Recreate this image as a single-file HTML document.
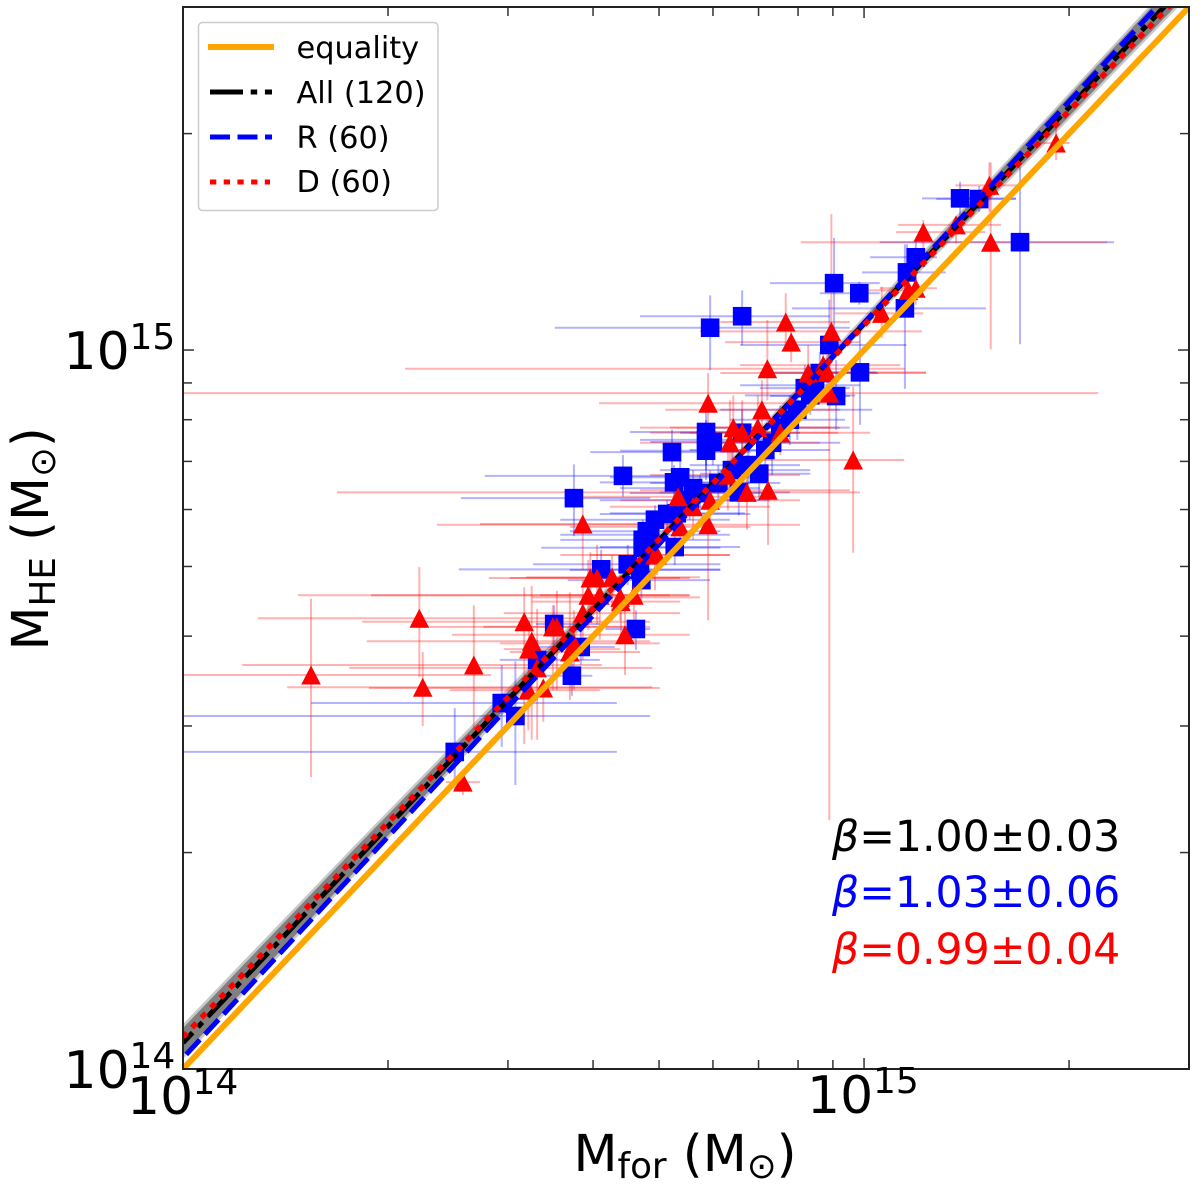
<!DOCTYPE html>
<html>
<head>
<meta charset="utf-8">
<title>Mass comparison</title>
<style>
html,body{margin:0;padding:0;background:#fff;width:1200px;height:1192px;overflow:hidden}
svg{display:block}
text{font-family:"DejaVu Sans","Liberation Sans",sans-serif;fill:#000}
</style>
</head>
<body>
<svg id="chart" xmlns="http://www.w3.org/2000/svg" width="1200" height="1192" viewBox="0 0 1200 1192">
  <defs><clipPath id="plot-clip"><rect x="183" y="7" width="1006" height="1062"/></clipPath></defs>
  <rect x="183" y="7" width="1006" height="1062" fill="#fff"/>
  <g id="bands" clip-path="url(#plot-clip)"></g>
  <g id="errs" clip-path="url(#plot-clip)"></g>
  <g id="marks" clip-path="url(#plot-clip)"></g>
  <g id="lines" clip-path="url(#plot-clip)"></g>
  <g id="ticks"></g>
  <rect x="183" y="7" width="1006" height="1062" fill="none" stroke="#222" stroke-width="2"/>

  <g><text x="63.5" y="1088" font-size="52">10</text><text x="129.5" y="1068" font-size="36">14</text></g>
  <g><text x="63.5" y="369" font-size="52">10</text><text x="129.5" y="349" font-size="36">15</text></g>
  <g><text x="127" y="1114" font-size="52">10</text><text x="192.5" y="1094" font-size="36">14</text></g>
  <g><text x="807" y="1113" font-size="52">10</text><text x="873" y="1093" font-size="36">15</text></g>

  <text x="573.5" y="1171" font-size="51">M<tspan font-size="35.7" dy="7">for</tspan><tspan dy="-7"> (M</tspan><tspan font-size="35.7" dy="7">⊙</tspan><tspan dy="-7">)</tspan></text>
  <text transform="translate(48,650.5) rotate(-90)" x="0" y="0" font-size="51">M<tspan font-size="35.7" dy="7">HE</tspan><tspan dy="-7"> (M</tspan><tspan font-size="35.7" dy="7">⊙</tspan><tspan dy="-7">)</tspan></text>

  <text x="832" y="851" font-size="42.6"><tspan font-style="italic">β</tspan>=1.00±0.03</text>
  <text x="832" y="907" font-size="42.6" style="fill:#0000ff"><tspan font-style="italic">β</tspan>=1.03±0.06</text>
  <text x="832" y="964" font-size="42.6" style="fill:#ff0000"><tspan font-style="italic">β</tspan>=0.99±0.04</text>

  <g>
    <rect x="198.5" y="22.5" width="239.5" height="188" rx="4" fill="#fff" fill-opacity="0.8" stroke="#ccc" stroke-width="1.5"/>
    <line x1="208" y1="47" x2="274" y2="47" stroke="#ffa500" stroke-width="6"/>
    <line x1="210" y1="92" x2="272" y2="92" stroke="#000" stroke-width="5" stroke-dasharray="33 7.7 6.5 7.7"/>
    <line x1="210" y1="137" x2="272" y2="137" stroke="#0000ff" stroke-width="5" stroke-dasharray="20 7.5"/>
    <line x1="210" y1="182" x2="270" y2="182" stroke="#ff0000" stroke-width="5" stroke-dasharray="6.3 7.4"/>
    <text x="296.5" y="58" font-size="30.4">equality</text>
    <text x="296.5" y="103" font-size="30.4">All (120)</text>
    <text x="296.5" y="148" font-size="30.4">R (60)</text>
    <text x="296.5" y="192" font-size="30.4">D (60)</text>
  </g>
</svg>
<script>
// All values: log10(M / 1e14 Msun)
const rFor   = [1.229,1.141,1.169,1.076,1.063,1.060,.956,.993,.949,.994,.959,.902,.913,.935,.891,.865,.821,.830,.846,.816,.786,.768,.768,.768,.778,.774,.821,.718,.730,.721,.749,.759,.646,.574,.711,.725,.681,.675,.675,.722,.653,.614,.673,.665,.545,.584,.520,.571,.468,.488,.399,.686,.928,.877,.855,.744,.671,.921,.806,.693];
const rForLo = [1.023,1.085,1.106,1.009,.997,.894,.862,.935,.818,.921,.862,.789,.847,.862,.803,.759,.730,.744,.759,.700,.686,.656,.671,.642,.686,.546,.671,.598,.627,.612,.642,.656,.443,.408,.612,.627,.568,.554,.526,.612,.514,.405,.565,.620,.518,.510,.465,.510,.188,-.122,-.151,.554,.818,.774,.744,.612,.568,.825,.700,.554];
const rForHi = [1.367,1.223,1.223,1.107,1.120,1.179,1.023,1.023,1.062,1.018,.979,1.012,.979,1.021,.972,.965,.906,.906,.921,.891,.877,.869,.884,.862,.891,.979,.950,.833,.847,.833,.847,.862,.803,.686,.833,.825,.789,.789,.789,.818,.789,.789,.774,.686,.612,.634,.612,.601,.637,.686,.637,.803,.994,.979,.950,.862,.789,.987,.921,.803];
const rHE    = [1.150,1.211,1.210,1.129,1.108,1.058,1.093,1.079,1.007,.969,.936,.917,.947,.968,.903,.871,.885,.840,.828,.802,.815,.886,.875,.860,.872,1.031,1.047,.858,.823,.816,.808,.801,.825,.794,.772,.773,.748,.736,.725,.726,.702,.695,.680,.612,.619,.587,.569,.547,.509,.491,.441,.743,.951,.892,.861,.791,.694,.937,.833,.764];
const rHELo  = [1.008,1.188,1.192,1.108,1.070,.946,1.000,1.063,.937,.896,.889,.875,.910,.933,.868,.826,.840,.805,.791,.770,.784,.833,.840,.819,.840,.972,1.007,.826,.798,.784,.777,.770,.796,.741,.750,.743,.715,.708,.694,.701,.673,.666,.652,.583,.590,.562,.541,.519,.448,.395,.388,.715,.923,.861,.833,.764,.666,.910,.805,.736];
const rHEHi  = [1.255,1.234,1.228,1.153,1.147,1.147,1.156,1.095,1.070,1.024,.986,.951,.979,.997,.937,.903,.917,.868,.854,.826,.840,.923,.903,.896,.896,1.076,1.083,.889,.847,.840,.833,.826,.854,.841,.791,.805,.777,.764,.750,.750,.729,.722,.708,.638,.645,.611,.597,.576,.562,.567,.502,.777,.972,.923,.889,.819,.722,.961,.861,.784];

const dFor   = [1.282,1.184,1.135,1.087,1.186,1.076,1.065,1.026,.885,.893,.952,.858,.771,.918,.940,.946,.949,.984,.808,.821,.803,.850,.844,.877,.800,.828,.859,.774,.771,.587,.727,.749,.730,.693,.630,.598,.608,.595,.612,.642,.662,.643,.696,.587,.649,.501,.512,.508,.543,.549,.568,.574,.520,.529,.507,.347,.352,.427,.188,.411];
const dForLo = [1.258,1.134,1.050,1.047,.907,1.023,.994,.957,.789,.796,.759,.326,.611,.789,.818,.847,-.048,.847,.671,.686,.671,.708,.715,.744,.686,.226,.671,.642,.373,.436,.583,.627,.568,.554,.504,.449,.480,.169,.276,.512,.524,.512,.598,.471,.395,.263,.270,.471,.441,.342,.480,.465,.244,.273,.392,.110,.153,.087,-.078,.386];
const dForHi = [1.302,1.225,1.201,1.178,1.357,1.107,1.090,1.087,.979,.994,1.085,1.060,.950,1.091,1.053,1.091,1.344,1.059,.950,.962,.935,.965,.965,1.009,.906,.994,.979,.906,.906,.730,.847,.862,.833,.803,.759,.730,.744,.715,.744,.759,.744,.730,.803,.730,.744,.686,.686,.642,.671,.686,.671,.700,.689,.700,.612,.612,.689,.615,.452,.436];
const dHE    = [1.288,1.229,1.174,1.164,1.150,1.086,1.083,1.051,1.039,1.011,1.026,.974,.926,.968,.979,.969,.940,.847,.892,.885,.871,.917,.892,.885,.826,.802,.805,.791,.757,.758,.796,.782,.754,.715,.684,.683,.683,.659,.659,.656,.659,.650,.715,.634,.604,.622,.595,.584,.615,.615,.580,.592,.558,.530,.527,.627,.531,.562,.548,.399];
const dHELo  = [1.264,1.192,1.149,1.139,1.001,1.063,1.053,1.017,1.000,.983,1.000,.930,.898,.930,.944,.937,.346,.718,.833,.805,.819,.875,.847,.854,.777,.750,.729,.764,.624,.694,.750,.736,.715,.666,.624,.624,.618,.611,.597,.624,.597,.597,.687,.569,.548,.452,.458,.527,.527,.527,.513,.527,.458,.483,.471,.545,.477,.471,.406,.381];
const dHEHi  = [1.309,1.261,1.185,1.181,1.261,1.111,1.114,1.088,1.079,1.032,1.189,1.042,.968,1.007,1.014,1.000,1.014,.949,.937,.930,.930,.958,.937,.917,.868,.854,.840,.833,.805,.784,.833,.805,.791,.743,.715,.719,.729,.708,.701,.687,.673,.680,.736,.680,.638,.670,.672,.624,.645,.665,.663,.638,.640,.541,.555,.698,.580,.645,.654,.416];

// Fit lines: logHE = intercept + slope * logFor
const fitIntercepts = [0.0365, 0.0153, 0.0445];
const fitSlopes     = [1.00, 1.0225, 0.99];
// Confidence bands: half-widths in dex at sampled logFor values
const bandCenter  = 0.0382;
const bandSamples = [0, 0.25, 0.5, 0.75, 1.0, 1.25, 1.477];
const bandLight   = [0.0243, 0.0210, 0.0140, 0.0050, 0.0090, 0.0170, 0.0230];
const bandDark    = [0.0188, 0.0160, 0.0090, 0.0020, 0.0050, 0.0130, 0.0180];

// Axis limits and ticks in units of 1e14 Msun
const axisMax = 30;
const xTickMasses = [1,2,3,4,5,6,7,8,9,10,20];
const yTickMasses = [1,2,3,4,5,6,7,8,9,10,20];

const NS = 'http://www.w3.org/2000/svg';
const xScale = u => 183 + u * 1006 / Math.log10(axisMax);
const yScale = u => 1069 - u * 1062 / Math.log10(axisMax);
function make(tag, parent) {
  const el = document.createElementNS(NS, tag);
  parent.appendChild(el);
  return el;
}
function seg(parent, x1, y1, x2, y2, color, w, op) {
  const l = make('line', parent);
  l.setAttribute('x1', x1); l.setAttribute('y1', y1);
  l.setAttribute('x2', x2); l.setAttribute('y2', y2);
  l.setAttribute('stroke', color); l.setAttribute('stroke-width', w);
  if (op) l.setAttribute('stroke-opacity', op);
  return l;
}

// Bands
const bandG = document.getElementById('bands');
const bandColors = ['#c8c8c8', '#808080'];
[bandLight, bandDark].forEach((widths, k) => {
  const up = [], dn = [];
  bandSamples.forEach((u, i) => {
    const c = bandCenter + u;
    up.push(xScale(u) + ',' + yScale(c + widths[i]));
    dn.unshift(xScale(u) + ',' + yScale(c - widths[i]));
  });
  const p = make('polygon', bandG);
  
  
  p.setAttribute('points', up.concat(dn).join(' '));
  p.setAttribute('fill', bandColors[k]);
});

// Error bars
const errG = document.getElementById('errs');
function drawErrors(fx, lo, hi, fy, ylo, yhi, color, name) {
  fx.forEach((v, i) => {
    const h = seg(errG, xScale(lo[i]), yScale(fy[i]), xScale(hi[i]), yScale(fy[i]), color, 2, 0.3);
    
    
    const w = seg(errG, xScale(v), yScale(ylo[i]), xScale(v), yScale(yhi[i]), color, 2, 0.3);
    
    
  });
}
drawErrors(rFor, rForLo, rForHi, rHE, rHELo, rHEHi, '#0000ff', 'relaxed');
drawErrors(dFor, dForLo, dForHi, dHE, dHELo, dHEHi, '#ff0000', 'disturbed');

// Markers
const markG = document.getElementById('marks');
rFor.forEach((v, i) => {
  const s = make('rect', markG);
  
  
  s.setAttribute('x', xScale(v) - 9.3);
  s.setAttribute('y', yScale(rHE[i]) - 9.3);
  s.setAttribute('width', 18.6);
  s.setAttribute('height', 18.6);
  s.setAttribute('fill', '#0000ff');
});
dFor.forEach((v, i) => {
  const cx = xScale(v), cy = yScale(dHE[i]);
  const t = make('polygon', markG);
  
  
  t.setAttribute('points', (cx - 9.8) + ',' + (cy + 9.5) + ' ' + (cx + 9.8) + ',' + (cy + 9.5) + ' ' + cx + ',' + (cy - 9.5));
  t.setAttribute('fill', '#ff0000');
});

// Lines
const lineG = document.getElementById('lines');
const uMax = Math.log10(axisMax);
const eq = seg(lineG, xScale(0), yScale(0), xScale(uMax), yScale(uMax), '#ffa500', 6);


const lineColors = ['#000000', '#0000ff', '#ff0000'];
const lineWidths = [5, 5, 5.5];
const lineDashes = ['33 7.7 6.5 7.7', '20 7.5', '6.3 7.4'];
const lineOffsets = [19, 22.7, 0.7];
const lineNames = ['fit-line-all', 'fit-line-r', 'fit-line-d'];
fitIntercepts.forEach((a, k) => {
  const l = seg(lineG, xScale(0), yScale(a), xScale(uMax), yScale(a + fitSlopes[k] * uMax), lineColors[k], lineWidths[k]);
  l.setAttribute('stroke-dasharray', lineDashes[k]);
  l.setAttribute('stroke-dashoffset', lineOffsets[k]);
  
  
});

// Ticks
const tickG = document.getElementById('ticks');
const tickLen = m => (m === 1 || m === 10) ? 11 : 9;
xTickMasses.forEach(m => {
  const px = xScale(Math.log10(m));
  const a = seg(tickG, px, 1069, px, 1069 - tickLen(m), '#333', 1.5);
  
  
  const b = seg(tickG, px, 7, px, 7 + tickLen(m), '#333', 1.5);
  
  
});
yTickMasses.forEach(m => {
  const py = yScale(Math.log10(m));
  const a = seg(tickG, 183, py, 183 + tickLen(m), py, '#333', 1.5);
  
  
  const b = seg(tickG, 1189, py, 1189 - tickLen(m), py, '#333', 1.5);
  
  
});
</script>
</body>
</html>
